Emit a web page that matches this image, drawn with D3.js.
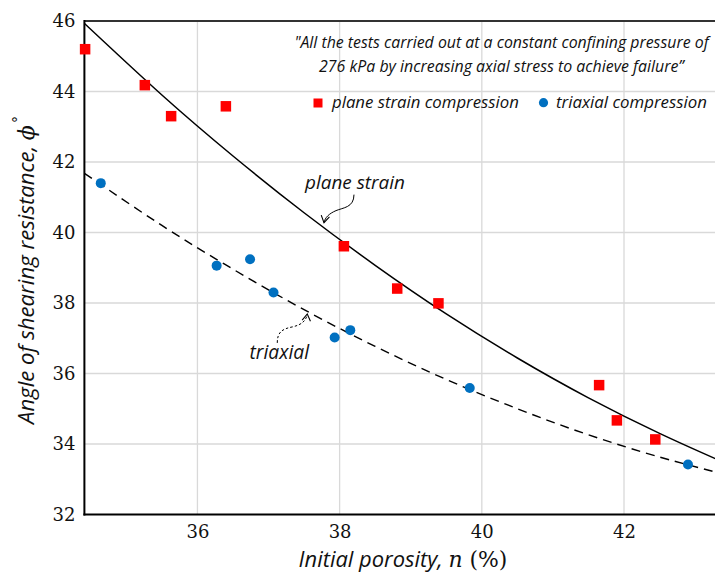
<!DOCTYPE html>
<html>
<head>
<meta charset="utf-8">
<script src="https://cdn.jsdelivr.net/npm/d3@7/dist/d3.min.js"></script>
<style>
  html, body { margin: 0; padding: 0; background: #fff; }
  svg { display: block; }
  .sans { font-family: "Open Sans", Lato, sans-serif; font-style: italic; fill: #111; }
  .num { font-family: "DejaVu Serif", serif; fill: #111; }
</style>
</head>
<body>
<svg id="chart" width="715" height="573"></svg>
<script>
// Measured friction angles (degrees) against initial porosity (%)
const planeStrainPorosity = [34.42, 35.26, 35.63, 36.40, 38.06, 38.81, 39.39, 41.65, 41.90, 42.44];
const planeStrainAngle    = [45.20, 44.18, 43.30, 43.58, 39.61, 38.41, 37.99, 35.67, 34.67, 34.13];

const triaxialPorosity = [34.64, 36.27, 36.74, 37.07, 37.93, 38.15, 39.83, 42.90];
const triaxialAngle    = [41.40, 39.06, 39.24, 38.30, 37.02, 37.23, 35.59, 33.42];

// Trend curves through each data set
const planeFitPorosity = [34.41, 35.5, 36.5, 37.5, 38.5, 39.5, 40.5, 41.5, 42.5, 43.3];
const planeFitAngle    = [45.93, 43.90, 42.17, 40.56, 39.07, 37.69, 36.44, 35.31, 34.30, 33.57];
const triaxFitPorosity = [34.41, 35.5, 36.5, 37.5, 38.5, 39.5, 40.5, 41.5, 42.5, 43.3];
const triaxFitAngle    = [41.68, 40.20, 38.96, 37.81, 36.77, 35.83, 35.00, 34.26, 33.63, 33.20];

// Axis ticks
const xTicks = [36, 38, 40, 42];
const yTicks = [32, 34, 36, 38, 40, 42, 44, 46];

const svg = d3.select("#chart");
const W = 715, H = 573;
const pLeft = 84.4, pRight = 715, pTop = 21, pBottom = 514.5;

const x = d3.scaleLinear().domain([34.41, 43.28]).range([pLeft, pRight]);
const y = d3.scaleLinear().domain([32, 46]).range([pBottom, pTop]);

// Scale a text element's font so that its run spans the given width
function fitWidth(sel, width) {
  const node = sel.node();
  const fs = parseFloat(sel.style("font-size"));
  const w = node.getBBox().width;
  sel.style("font-size", (fs * width / w).toFixed(2) + "px");
  return sel;
}

// Grid
const grid = svg.append("g").attr("stroke", "#d9d9d9").attr("stroke-width", 1.3);
grid.selectAll("line.v").data(xTicks).join("line")
  .attr("x1", d => x(d)).attr("x2", d => x(d))
  .attr("y1", pTop).attr("y2", pBottom);
grid.selectAll("line.h").data(yTicks.filter(d => d > 32 && d < 46)).join("line")
  .attr("x1", pLeft).attr("x2", W + 5)
  .attr("y1", d => y(d)).attr("y2", d => y(d));

// Frame
svg.append("line").attr("x1", pLeft).attr("x2", W + 5).attr("y1", pTop).attr("y2", pTop)
  .attr("stroke", "#333").attr("stroke-width", 2);

// Axes
const xAxis = svg.append("g").attr("transform", `translate(0,${pBottom})`)
  .call(d3.axisBottom(x).tickValues(xTicks).tickSize(0).tickPadding(11).tickFormat(d3.format("d")));
const yAxis = svg.append("g").attr("transform", `translate(${pLeft},0)`)
  .call(d3.axisLeft(y).tickValues(yTicks).tickSize(0).tickPadding(9).tickFormat(d3.format("d")));
[xAxis, yAxis].forEach(a => {
  a.select(".domain").remove();
  a.selectAll("text").attr("class", "num").style("font-size", "18px");
});
svg.append("line").attr("x1", pLeft).attr("x2", pLeft).attr("y1", pTop - 1).attr("y2", pBottom + 1)
  .attr("stroke", "#000").attr("stroke-width", 2);
svg.append("line").attr("x1", pLeft - 1).attr("x2", W + 5).attr("y1", pBottom).attr("y2", pBottom)
  .attr("stroke", "#000").attr("stroke-width", 2);

// Clip for plotted content
svg.append("clipPath").attr("id", "plot-clip").append("rect")
  .attr("x", pLeft).attr("y", pTop).attr("width", pRight - pLeft).attr("height", pBottom - pTop);
const plot = svg.append("g").attr("clip-path", "url(#plot-clip)");

const line = d3.line().x(d => x(d[0])).y(d => y(d[1])).curve(d3.curveNatural);

plot.append("path")
  .datum(d3.zip(planeFitPorosity, planeFitAngle))
  .attr("d", line).attr("fill", "none").attr("stroke", "#000").attr("stroke-width", 1.5);
plot.append("path")
  .datum(d3.zip(triaxFitPorosity, triaxFitAngle))
  .attr("d", line).attr("fill", "none").attr("stroke", "#000").attr("stroke-width", 1.4)
  .attr("stroke-dasharray", "9,6");

// Markers
const sq = 10.5;
svg.append("g").selectAll("rect").data(d3.zip(planeStrainPorosity, planeStrainAngle)).join("rect")
  .attr("x", d => x(d[0]) - sq / 2).attr("y", d => y(d[1]) - sq / 2)
  .attr("width", sq).attr("height", sq).attr("fill", "#ff0000");
svg.append("g").selectAll("circle").data(d3.zip(triaxialPorosity, triaxialAngle)).join("circle")
  .attr("cx", d => x(d[0])).attr("cy", d => y(d[1])).attr("r", 5).attr("fill", "#0070c0");

// Curved call-out arrows
function chevron(g, tip, from, len) {
  const ang = Math.atan2(tip[1] - from[1], tip[0] - from[0]);
  const a1 = ang + Math.PI - 0.55, a2 = ang + Math.PI + 0.55;
  g.append("path")
    .attr("d", `M${tip[0] + len * Math.cos(a1)},${tip[1] + len * Math.sin(a1)}L${tip[0]},${tip[1]}L${tip[0] + len * Math.cos(a2)},${tip[1] + len * Math.sin(a2)}`)
    .attr("fill", "none").attr("stroke", "#000").attr("stroke-width", 1.1);
}

// plane strain label
{
  const tip = [x(37.78), y(40.28)];
  const g = svg.append("g");
  const t = g.append("text").attr("class", "sans").attr("x", tip[0] + 31).attr("y", tip[1] - 34)
    .attr("text-anchor", "middle").style("font-size", "18px").text("plane strain");
  fitWidth(t, 101);
  const s = [tip[0] + 30, tip[1] - 28];
  const c1 = [tip[0] + 30, tip[1] - 15], c2 = [tip[0] + 19, tip[1] - 15];
  const m = [tip[0] + 12, tip[1] - 12];
  const c3 = [tip[0] + 5, tip[1] - 9], c4 = [tip[0] + 1, tip[1] - 5];
  g.append("path")
    .attr("d", `M${s}C${c1} ${c2} ${m}C${c3} ${c4} ${tip}`)
    .attr("fill", "none").attr("stroke", "#000").attr("stroke-width", 1);
  chevron(g, tip, c4, 8);
}

// triaxial label
{
  const tip = [x(37.545), y(37.69)];
  const g = svg.append("g");
  const t = g.append("text").attr("class", "sans").attr("x", tip[0] - 28).attr("y", tip[1] + 45)
    .attr("text-anchor", "middle").style("font-size", "18px").text("triaxial");
  fitWidth(t, 60);
  const s = [tip[0] - 30, tip[1] + 29];
  const c1 = [tip[0] - 30, tip[1] + 18], c2 = [tip[0] - 25, tip[1] + 15];
  const m = [tip[0] - 15, tip[1] + 13];
  const c3 = [tip[0] - 6, tip[1] + 11], c4 = [tip[0] - 1, tip[1] + 7];
  g.append("path")
    .attr("d", `M${s}C${c1} ${c2} ${m}C${c3} ${c4} ${tip}`)
    .attr("fill", "none").attr("stroke", "#000").attr("stroke-width", 1)
    .attr("stroke-dasharray", "2.5,2");
  chevron(g, tip, c4, 8);
}

// Note and legend
const note = svg.append("g");
fitWidth(note.append("text").attr("class", "sans").attr("x", 501.5).attr("y", 48)
  .attr("text-anchor", "middle").style("font-size", "15px")
  .text("\"All the tests carried out at a constant confining pressure of"), 417);
fitWidth(note.append("text").attr("class", "sans").attr("x", 501.5).attr("y", 72)
  .attr("text-anchor", "middle").style("font-size", "15px")
  .text("276 kPa by increasing axial stress to achieve failure\u201d"), 367);

const legend = svg.append("g");
legend.append("rect").attr("x", 313.5).attr("y", 98.5).attr("width", 9).attr("height", 9).attr("fill", "#ff0000");
fitWidth(legend.append("text").attr("class", "sans").attr("x", 332).attr("y", 108).style("font-size", "15px")
  .text("plane strain compression"), 188);
legend.append("circle").attr("cx", 543.5).attr("cy", 102.7).attr("r", 4.6).attr("fill", "#0070c0");
fitWidth(legend.append("text").attr("class", "sans").attr("x", 556).attr("y", 108).style("font-size", "15px")
  .text("triaxial compression"), 151);

// Axis titles
const xt = svg.append("text").attr("x", (298 + 508) / 2).attr("y", 567).attr("text-anchor", "middle")
  .style("font-size", "19px");
xt.append("tspan").attr("class", "sans").text("Initial porosity, ");
xt.append("tspan").style("font-family", "'DejaVu Serif', serif").style("font-style", "italic").attr("fill", "#111").text("n");
xt.append("tspan").style("font-family", "'DejaVu Serif', serif").attr("fill", "#111").text(" (%)");
fitWidth(xt, 209);

const yt = svg.append("text").attr("transform", `translate(34,270) rotate(-90)`)
  .attr("text-anchor", "middle").style("font-size", "19px");
yt.append("tspan").attr("class", "sans").text("Angle of shearing resistance,  ");
yt.append("tspan").style("font-family", "'DejaVu Serif', serif").style("font-style", "italic").attr("fill", "#111").text("\u03D5");
yt.append("tspan").style("font-family", "'DejaVu Serif', serif").attr("fill", "#111")
  .style("font-size", "14px").attr("dy", "-11").attr("dx", "2").text("\u00B0");
fitWidth(yt, 312);
</script>
</body>
</html>
